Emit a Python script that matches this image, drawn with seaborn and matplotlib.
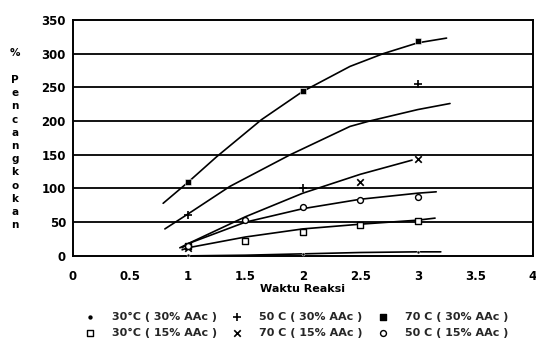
import numpy as np
import pandas as pd
import matplotlib
matplotlib.use("Agg")
import matplotlib.pyplot as plt
import seaborn as sns

# ---- data ----
x_ticks = [0, 0.5, 1, 1.5, 2, 2.5, 3, 3.5, 4]
x_tick_labels = ["0", "0.5", "1", "1.5", "2", "2.5", "3", "3.5", "4"]
y_ticks = [0, 50, 100, 150, 200, 250, 300, 350]

labels = ["30°C ( 30% AAc )", "50 C ( 30% AAc )", "70 C ( 30% AAc )",
          "30°C ( 15% AAc )", "70 C ( 15% AAc )", "50 C ( 15% AAc )"]

# measured points (markers)
p30_30_x = [1, 2, 3];            p30_30_y = [1, 3, 6]
p50_30_x = [1, 2, 3];            p50_30_y = [61, 100, 255]
p70_30_x = [1, 2, 3];            p70_30_y = [110, 245, 318]
p30_15_x = [1, 1.5, 2, 2.5, 3];  p30_15_y = [14, 22, 36, 46, 52]
p70_15_x = [1, 2.5, 3];          p70_15_y = [12, 110, 143]
p50_15_x = [1, 1.5, 2, 2.5, 3];  p50_15_y = [15, 53, 73, 83, 88]

# hand-drawn trend curves
c30_30_x = [1.0, 1.5, 2.0, 2.5, 3.0, 3.2];        c30_30_y = [0, 1, 3, 5, 6, 6]
c50_30_x = [0.8, 1.0, 1.365, 1.89, 2.41, 2.58, 3.0, 3.28]
c50_30_y = [40, 62, 103, 150, 192, 200, 217, 226]
c70_30_x = [0.785, 1.0, 1.25, 1.64, 2.0, 2.41, 2.7, 3.0, 3.25]
c70_30_y = [78, 109, 147, 202, 244, 281, 300, 316, 323]
c30_15_x = [0.95, 1.0, 1.5, 2.0, 2.5, 3.0, 3.15]; c30_15_y = [9, 12, 28, 40, 47, 53, 56]
c70_15_x = [0.93, 1.0, 1.5, 2.0, 2.5, 2.95];      c70_15_y = [12, 18, 58, 93, 121, 142]
c50_15_x = [0.95, 1.0, 1.5, 2.0, 2.5, 3.0, 3.16]; c50_15_y = [12, 18, 50, 70, 84, 93, 95]

# ---- styling ----
sns.set_theme(style="white")
plt.rcParams['font.family'] = ['DejaVu Sans']

fig = plt.figure(figsize=(5.36, 3.43), dpi=100)
ax = fig.add_axes([0.136, 0.254, 0.858, 0.688])

K = "black"
curves = [(c30_30_x, c30_30_y), (c50_30_x, c50_30_y), (c70_30_x, c70_30_y),
          (c30_15_x, c30_15_y), (c70_15_x, c70_15_y), (c50_15_x, c50_15_y)]
for cx, cy in curves:
    sns.lineplot(x=cx, y=cy, ax=ax, color=K, lw=1.2, legend=False, sort=True)

points = [(p30_30_x, p30_30_y), (p50_30_x, p50_30_y), (p70_30_x, p70_30_y),
          (p30_15_x, p30_15_y), (p70_15_x, p70_15_y), (p50_15_x, p50_15_y)]
mstyle = [dict(marker=".", s=18, color=K),
          dict(marker="+", s=30, color=K, linewidth=1.2),
          dict(marker="s", s=22, color=K),
          dict(marker="s", s=18, facecolor="white", edgecolor=K, linewidth=1.0),
          dict(marker="x", s=22, color=K, linewidth=1.2),
          dict(marker="o", s=18, facecolor="white", edgecolor=K, linewidth=1.0)]
handles = []
for (px, py), st, lab in zip(points, mstyle, labels):
    sns.scatterplot(x=px, y=py, ax=ax, legend=False, zorder=5, **st)
    handles.append(ax.scatter([], [], label=lab, **st))

ax.set_xlim(0, 4)
ax.set_ylim(0, 350)
ax.set_xticks(x_ticks)
ax.set_xticklabels(x_tick_labels)
ax.set_yticks(y_ticks)
for yv in y_ticks[1:-1]:
    ax.axhline(yv, color=K, lw=1.3, zorder=1)
for s in ax.spines.values():
    s.set_color(K)
    s.set_linewidth(1.4)
ax.tick_params(axis="x", direction="in", length=3, width=1, color=K,
               labelsize=8.5, pad=10, top=False)
ax.tick_params(axis="y", length=0, labelsize=8.5, pad=5)
for t in ax.get_xticklabels() + ax.get_yticklabels():
    t.set_fontweight("bold")
    t.set_color(K)
ax.set_xlabel("Waktu Reaksi", fontsize=8, fontweight="bold", color=K, labelpad=1)
ax.set_ylabel("")

# stacked vertical y-axis label
fig.text(15 / 536, 1 - 53 / 343, "%", ha="center", va="center",
         fontsize=7.5, fontweight="bold", color=K)
for i, ch in enumerate("Pencangkokan"):
    fig.text(15 / 536, 1 - (80 + i * 13.2) / 343, ch, ha="center", va="center",
             fontsize=7.5, fontweight="bold", color=K)

# legend order so rows read: (dot, +, ■) / (□, x, ○)
order = [0, 3, 1, 4, 2, 5]
fig.legend([handles[i] for i in order], [labels[i] for i in order],
           ncol=3, loc="lower center", bbox_to_anchor=(0.553, -0.015),
           frameon=False, prop={"size": 8, "weight": "bold"},
           handletextpad=1.5, columnspacing=1.3, labelspacing=0.55,
           handlelength=1.0)

fig.savefig("out.png", dpi=100, facecolor="white")
